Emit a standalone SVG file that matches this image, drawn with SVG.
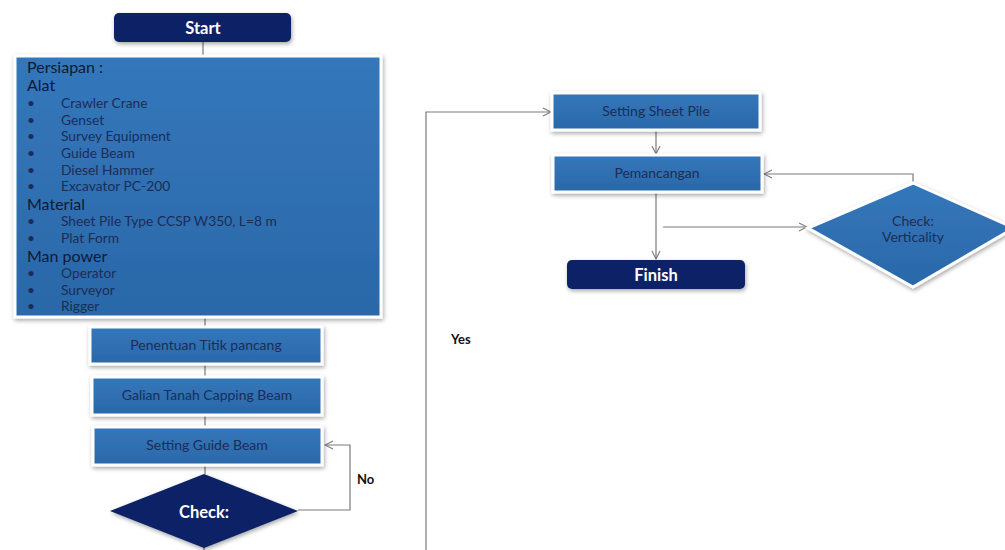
<svg xmlns="http://www.w3.org/2000/svg" width="1005" height="550" viewBox="0 0 1005 550">
  <style>
    text { font-family: Lato, "Open Sans", "Liberation Sans", sans-serif; }
    .proc { fill: url(#blueFill); stroke: #ffffff; stroke-width: 3; filter: url(#shadow); }
    .term { fill: #0b2466; filter: url(#shadow); }
    .lbl { font-size: 14px; fill: #1b2d57; text-anchor: middle; }
    .termlbl { font-size: 16.5px; font-weight: bold; fill: #ffffff; text-anchor: middle; }
    .head { font-size: 16px; fill: #0e1a33; }
    .item { font-size: 13.8px; fill: #1b2d57; }
    .conn { fill: none; stroke: #7a7a7a; stroke-width: 1.2; }
    .tag { font-size: 13px; font-weight: bold; fill: #111; }
  </style>
  <defs>
    <linearGradient id="blueFill" x1="0" y1="0" x2="0" y2="1">
      <stop offset="0" stop-color="#3477bb"/>
      <stop offset="1" stop-color="#2a68a8"/>
    </linearGradient>
    <filter id="shadow" x="-10%" y="-20%" width="120%" height="140%">
      <feDropShadow dx="1" dy="2" stdDeviation="2" flood-color="#000" flood-opacity="0.35"/>
    </filter>
    <marker id="chev" markerWidth="10" markerHeight="10" refX="9" refY="5" orient="auto" markerUnits="userSpaceOnUse">
      <path d="M1,1 L9,5 L1,9" fill="none" stroke="#7a7a7a" stroke-width="1.1"/>
    </marker>
  </defs>

  <!-- connectors -->
  <g id="connectors">
    <line class="conn" x1="203" y1="42" x2="203" y2="56"/>
    <line class="conn" x1="205" y1="317" x2="205" y2="327"/>
    <line class="conn" x1="205" y1="364" x2="205" y2="377"/>
    <line class="conn" x1="205" y1="415" x2="205" y2="427"/>
    <line class="conn" x1="205" y1="465" x2="205" y2="474"/>
    <line class="conn" x1="204" y1="545" x2="204" y2="550"/>
    <polyline class="conn" points="298,510 350,510 350,445 325,445" marker-end="url(#chev)"/>
    <polyline class="conn" points="426,550 426,112 551,112" marker-end="url(#chev)"/>
    <line class="conn" x1="656" y1="130" x2="656" y2="154" marker-end="url(#chev)"/>
    <line class="conn" x1="656" y1="192" x2="656" y2="259" marker-end="url(#chev)"/>
    <line class="conn" x1="663" y1="227" x2="807" y2="227" marker-end="url(#chev)"/>
    <polyline class="conn" points="913,184 913,174 764,174" marker-end="url(#chev)"/>
    <text class="tag" x="357" y="484">No</text>
    <text class="tag" x="451" y="344">Yes</text>
  </g>

  <g id="start">
    <rect class="term" x="114" y="13" width="177" height="29" rx="5"/>
    <text class="termlbl" x="203" y="34">Start</text>
  </g>

  <g id="persiapan">
    <rect class="proc" x="15" y="56" width="366" height="261"/>
    <text class="head" x="27" y="73">Persiapan :</text>
    <text class="head" x="27" y="91">Alat</text>
    <g class="item">
      <text x="27" y="108">•</text><text x="61" y="108">Crawler Crane</text>
      <text x="27" y="125">•</text><text x="61" y="125">Genset</text>
      <text x="27" y="141">•</text><text x="61" y="141">Survey Equipment</text>
      <text x="27" y="158">•</text><text x="61" y="158">Guide Beam</text>
      <text x="27" y="175">•</text><text x="61" y="175">Diesel Hammer</text>
      <text x="27" y="191">•</text><text x="61" y="191">Excavator PC-200</text>
    </g>
    <text class="head" x="27" y="210">Material</text>
    <g class="item">
      <text x="27" y="226">•</text><text x="61" y="226">Sheet Pile Type CCSP W350, L=8 m</text>
      <text x="27" y="243">•</text><text x="61" y="243">Plat Form</text>
    </g>
    <text class="head" x="27" y="262">Man power</text>
    <g class="item">
      <text x="27" y="278">•</text><text x="61" y="278">Operator</text>
      <text x="27" y="295">•</text><text x="61" y="295">Surveyor</text>
      <text x="27" y="311">•</text><text x="61" y="311">Rigger</text>
    </g>
  </g>

  <g id="penentuan">
    <rect class="proc" x="90" y="327" width="232" height="37"/>
    <text class="lbl" x="206" y="350">Penentuan Titik pancang</text>
  </g>

  <g id="galian">
    <rect class="proc" x="92" y="377" width="230" height="38"/>
    <text class="lbl" x="207" y="400">Galian Tanah Capping Beam</text>
  </g>

  <g id="guide-beam">
    <rect class="proc" x="93" y="427" width="229" height="38"/>
    <text class="lbl" x="207" y="450">Setting Guide Beam</text>
  </g>

  <g id="check">
    <polygon class="term" points="204,474 298,511 204,548 110,511"/>
    <text class="termlbl" x="204" y="518">Check:</text>
  </g>

  <g id="sheet-pile">
    <rect class="proc" x="552" y="93" width="208" height="37"/>
    <text class="lbl" x="656" y="116">Setting Sheet Pile</text>
  </g>

  <g id="pemancangan">
    <rect class="proc" x="553" y="155" width="209" height="37"/>
    <text class="lbl" x="657" y="178">Pemancangan</text>
  </g>

  <g id="finish">
    <rect class="term" x="567" y="260" width="178" height="29" rx="5"/>
    <text class="termlbl" x="656" y="281">Finish</text>
  </g>

  <g id="check-verticality">
    <polygon points="913,183 1014,228 913,287 808,228" fill="url(#blueFill)" stroke="#ffffff" stroke-width="3" filter="url(#shadow)"/>
    <text class="lbl" x="913" y="226">Check:</text>
    <text class="lbl" x="913" y="242">Verticality</text>
  </g>
</svg>
